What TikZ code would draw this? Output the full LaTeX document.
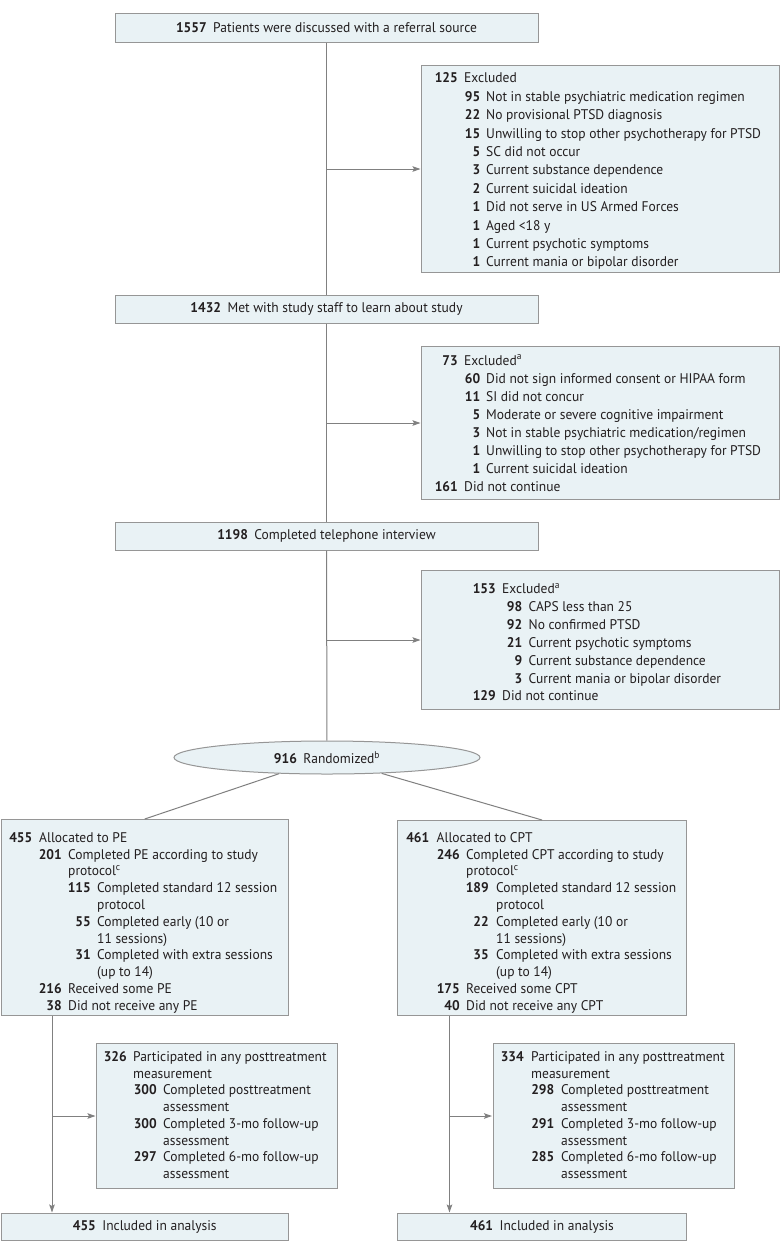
\documentclass[tikz,border=0pt]{standalone}
\usepackage{fontspec}
\setmainfont{PT Sans}[FakeStretch=0.965]
\usetikzlibrary{arrows.meta,shapes.geometric}
\definecolor{boxfill}{RGB}{233,242,245}
\definecolor{boxdraw}{RGB}{150,150,150}
\definecolor{linegray}{RGB}{128,128,128}
\definecolor{txt}{RGB}{35,31,32}
\newcommand\basefont{\fontsize{14}{16}\selectfont}
\newcount\linecnt
\newcommand\rowY{0}
\newcommand\rowS{18}
\newcommand\rowB{4.5}
\newcommand\Ln[5]{%
  \global\advance\linecnt by 1
  \node[numtxt, anchor=base east] (n\the\linecnt) at (#1,\rowY+\rowS*#3+\rowB) {#4};
  \node[bodytxt, anchor=base west] (t\the\linecnt) at (#2,\rowY+\rowS*#3+\rowB) {#5};}
\newcommand\Lc[3]{%
  \global\advance\linecnt by 1
  \node[bodytxt, anchor=base west] (t\the\linecnt) at (#1,\rowY+\rowS*#2+\rowB) {#3};}
\tikzset{
  box/.style={draw=boxdraw, fill=boxfill, line width=1pt, inner sep=0pt, text=txt, font=\basefont},
  ellbox/.style={ellipse, draw=boxdraw, fill=boxfill, line width=1pt, inner sep=0pt, text=txt, font=\basefont},
  numtxt/.style={inner sep=0pt, font=\basefont\bfseries, text=txt},
  bodytxt/.style={inner sep=0pt, font=\basefont, text=txt},
  conn/.style={draw=linegray, line width=1pt},
  arr/.style={conn, -{Stealth[length=8pt, width=5.5pt, inset=1.5pt]}, shorten >=0.5pt}
}
\begin{document}
\begin{tikzpicture}[x=1pt, y=-1pt, font=\basefont]
\fill[white] (0,0) rectangle (780,1254);
\useasboundingbox (0,0) rectangle (780,1254);

% main flow boxes
\node[box, minimum width=423pt, minimum height=29pt] (A) at (326.5,27.5)
  {\textbf{1557}\hspace{6.5pt}Patients were discussed with a referral source};
\node[box, minimum width=423pt, minimum height=28pt] (B) at (326.5,309)
  {\textbf{1432}\hspace{6.5pt}Met with study staff to learn about study};
\node[box, minimum width=423pt, minimum height=28pt] (C) at (326.5,536)
  {\textbf{1198}\hspace{6.5pt}Completed telephone interview};
\node[ellbox, minimum width=306pt, minimum height=33pt] (R) at (327,757.5)
  {\textbf{916}\hspace{6.5pt}Randomized\textsuperscript{b}};

% exclusion boxes
\node[box, minimum width=358pt, minimum height=207pt, anchor=north west] (X1) at (421,65) {};
\node[box, minimum width=358pt, minimum height=153pt, anchor=north west] (X2) at (421,346) {};
\node[box, minimum width=358pt, minimum height=139pt, anchor=north west] (X3) at (421,570) {};

% arms
\node[box, minimum width=287.5pt, minimum height=196pt, anchor=north west] (PE) at (0.5,819) {};
\node[box, minimum width=289pt, minimum height=195pt, anchor=north west] (CPT) at (397,820) {};
\node[box, minimum width=241pt, minimum height=145pt, anchor=north west] (PEp) at (96,1043) {};
\node[box, minimum width=241.5pt, minimum height=145pt, anchor=north west] (CPTp) at (492.5,1043) {};
\node[box, minimum width=287.5pt, minimum height=27pt, anchor=north west] (PEa) at (0.5,1213)
  {\textbf{455}\hspace{6.5pt}Included in analysis};
\node[box, minimum width=289pt, minimum height=27pt, anchor=north west] (CPTa) at (397,1213)
  {\textbf{461}\hspace{6.5pt}Included in analysis};

% connectors
\draw[conn] (A) -- (B);
\draw[conn] (B) -- (C);
\draw[conn] (C) -- (R);
\draw[arr] (A.south |- X1.west) -- (X1.west);
\draw[arr] (B.south |- X2.west) -- (X2.west);
\draw[arr] (C.south |- X3.west) -- (X3.west);
\draw[conn] (R) -- (PE.north);
\draw[conn] (R) -- (CPT.north);
\coordinate (peL) at (52,0);
\coordinate (cptL) at (449.5,0);
\draw[arr] (PE.south -| peL) -- (PEa.north -| peL);
\draw[arr] (PEp.west -| peL) -- (PEp.west);
\draw[arr] (CPT.south -| cptL) -- (CPTa.north -| cptL);
\draw[arr] (CPTp.west -| cptL) -- (CPTp.west);

% exclusion box 1 text
\renewcommand\rowY{78.3}\renewcommand\rowS{18.4}
\Ln{458}{464}{0}{125}{Excluded}
\Ln{480.5}{486}{1}{95}{Not in stable psychiatric medication regimen}
\Ln{480.5}{486}{2}{22}{No provisional PTSD diagnosis}
\Ln{480.5}{486}{3}{15}{Unwilling to stop other psychotherapy for PTSD}
\Ln{480.5}{486}{4}{5}{SC did not occur}
\Ln{480.5}{486}{5}{3}{Current substance dependence}
\Ln{480.5}{486}{6}{2}{Current suicidal ideation}
\Ln{480.5}{486}{7}{1}{Did not serve in US Armed Forces}
\Ln{480.5}{486}{8}{1}{Aged <18 y}
\Ln{480.5}{486}{9}{1}{Current psychotic symptoms}
\Ln{480.5}{486}{10}{1}{Current mania or bipolar disorder}

% exclusion box 2 text
\renewcommand\rowY{360.5}\renewcommand\rowS{18.1}
\Ln{458}{464}{0}{73}{Excluded\textsuperscript{a}}
\Ln{480.5}{486}{1}{60}{Did not sign informed consent or HIPAA form}
\Ln{480.5}{486}{2}{11}{SI did not concur}
\Ln{480.5}{486}{3}{5}{Moderate or severe cognitive impairment}
\Ln{480.5}{486}{4}{3}{Not in stable psychiatric medication/regimen}
\Ln{480.5}{486}{5}{1}{Unwilling to stop other psychotherapy for PTSD}
\Ln{480.5}{486}{6}{1}{Current suicidal ideation}
\Ln{458}{464}{7}{161}{Did not continue}

% exclusion box 3 text
\renewcommand\rowY{589}\renewcommand\rowS{17.9}
\Ln{496}{502}{0}{153}{Excluded\textsuperscript{a}}
\Ln{522.5}{528.5}{1}{98}{CAPS less than 25}
\Ln{522.5}{528.5}{2}{92}{No confirmed PTSD}
\Ln{522.5}{528.5}{3}{21}{Current psychotic symptoms}
\Ln{522.5}{528.5}{4}{9}{Current substance dependence}
\Ln{522.5}{528.5}{5}{3}{Current mania or bipolar disorder}
\Ln{496}{502}{6}{129}{Did not continue}

% PE arm text
\renewcommand\rowY{837.7}\renewcommand\rowS{16.8}
\Ln{32.5}{39}{0}{455}{Allocated to PE}
\Ln{62}{68}{1}{201}{Completed PE according to study}
\Lc{68}{2}{protocol\textsuperscript{c}}
\Ln{91}{97}{3}{115}{Completed standard 12 session}
\Lc{97}{4}{protocol}
\Ln{91}{97}{5}{55}{Completed early (10 or}
\Lc{97}{6}{11 sessions)}
\Ln{91}{97}{7}{31}{Completed with extra sessions}
\Lc{97}{8}{(up to 14)}
\Ln{62}{68}{9}{216}{Received some PE}
\Ln{62}{68}{10}{38}{Did not receive any PE}

% CPT arm text
\Ln{429.5}{436.5}{0}{461}{Allocated to CPT}
\Ln{460}{466}{1}{246}{Completed CPT according to study}
\Lc{466}{2}{protocol\textsuperscript{c}}
\Ln{489}{496}{3}{189}{Completed standard 12 session}
\Lc{496}{4}{protocol}
\Ln{489}{496}{5}{22}{Completed early (10 or}
\Lc{496}{6}{11 sessions)}
\Ln{489}{496}{7}{35}{Completed with extra sessions}
\Lc{496}{8}{(up to 14)}
\Ln{460}{466}{9}{175}{Received some CPT}
\Ln{460}{466}{10}{40}{Did not receive any CPT}

% PE posttreatment
\renewcommand\rowY{1057}\renewcommand\rowS{16.7}
\Ln{127}{133}{0}{326}{Participated in any posttreatment}
\Lc{133}{1}{measurement}
\Ln{157}{163}{2}{300}{Completed posttreatment}
\Lc{163}{3}{assessment}
\Ln{157}{163}{4}{300}{Completed 3-mo follow-up}
\Lc{163}{5}{assessment}
\Ln{157}{163}{6}{297}{Completed 6-mo follow-up}
\Lc{163}{7}{assessment}

% CPT posttreatment
\Ln{524}{531}{0}{334}{Participated in any posttreatment}
\Lc{531}{1}{measurement}
\Ln{554.5}{561}{2}{298}{Completed posttreatment}
\Lc{561}{3}{assessment}
\Ln{554.5}{561}{4}{291}{Completed 3-mo follow-up}
\Lc{561}{5}{assessment}
\Ln{554.5}{561}{6}{285}{Completed 6-mo follow-up}
\Lc{561}{7}{assessment}
\end{tikzpicture}
\end{document}
